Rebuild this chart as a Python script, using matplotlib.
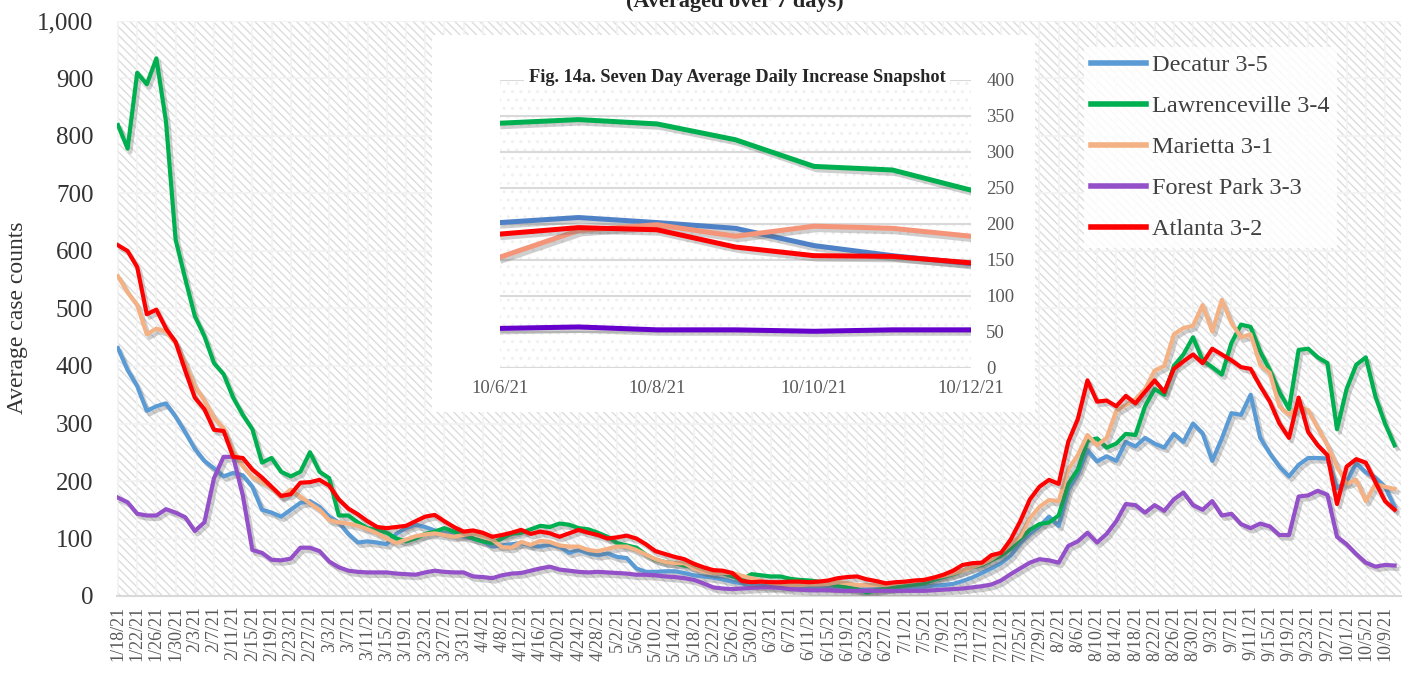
import pandas as pd
import matplotlib
matplotlib.use("Agg")
import matplotlib.pyplot as plt
import matplotlib.patheffects as pe
from matplotlib.patches import Rectangle
from matplotlib.ticker import FuncFormatter

plt.rcParams['font.family'] = ['Liberation Serif', 'DejaVu Serif']
plt.rcParams['hatch.linewidth'] = 1.0

# Main chart data (every second day)
dates = pd.date_range("2021-01-18", periods=134, freq="2D")

decatur = [
    431, 393, 365, 322, 330, 335, 312, 285, 256, 235,
    222, 208, 214, 210, 190, 150, 145, 138, 150, 162,
    165, 155, 138, 128, 108, 93, 95, 93, 90, 108,
    118, 124, 120, 114, 110, 106, 104, 100, 95, 86,
    88, 90, 92, 88, 86, 89, 86, 75, 80, 74,
    71, 74, 68, 66, 48, 42, 42, 43, 43, 40,
    36, 34, 32, 29, 25, 22, 19, 18, 17, 16,
    16, 16, 16, 16, 15, 14, 13, 11, 11, 12,
    13, 14, 15, 16, 16, 18, 19, 21, 26, 32,
    40, 48, 57, 70, 92, 108, 121, 138, 122, 185,
    212, 254, 234, 243, 235, 268, 260, 275, 265, 258,
    282, 268, 300, 283, 235, 274, 318, 315, 350, 275,
    248, 225, 208, 228, 240, 240, 239, 188, 198, 231,
    215, 206, 190, 155]

lawrenceville = [
    819, 778, 910, 890, 935, 825, 620, 552, 487, 452,
    405, 386, 345, 315, 290, 232, 240, 216, 208, 216,
    250, 216, 205, 140, 140, 128, 118, 115, 110, 100,
    95, 100, 108, 112, 118, 112, 108, 100, 95, 92,
    100, 108, 110, 116, 122, 120, 126, 124, 118, 116,
    110, 103, 92, 88, 84, 72, 63, 59, 57, 53,
    50, 44, 41, 40, 34, 28, 38, 36, 34, 34,
    30, 28, 27, 25, 22, 18, 15, 12, 6, 10,
    13, 15, 18, 20, 22, 28, 33, 38, 44, 50,
    54, 62, 70, 82, 100, 115, 125, 128, 140, 195,
    220, 270, 274, 258, 265, 282, 280, 330, 360, 350,
    400, 420, 450, 410, 398, 385, 440, 472, 468, 425,
    393, 355, 325, 428, 430, 415, 405, 290, 360, 402,
    415, 347, 300, 262]

marietta = [
    556, 528, 506, 455, 465, 460, 440, 405, 365, 340,
    310, 292, 251, 226, 207, 198, 188, 172, 185, 173,
    161, 150, 132, 128, 126, 122, 116, 109, 100, 92,
    98, 104, 107, 109, 106, 103, 106, 109, 103, 98,
    85, 84, 94, 89, 96, 94, 88, 86, 86, 80,
    78, 82, 86, 86, 80, 72, 64, 59, 57, 57,
    48, 43, 40, 40, 40, 35, 31, 26, 23, 20,
    19, 19, 20, 20, 21, 24, 22, 19, 19, 19,
    19, 22, 24, 26, 28, 32, 35, 39, 44, 50,
    56, 64, 76, 90, 104, 135, 155, 167, 165, 220,
    245, 280, 262, 275, 322, 332, 342, 360, 392, 400,
    455, 466, 470, 506, 460, 515, 475, 450, 455, 402,
    388, 330, 315, 330, 323, 292, 262, 225, 195, 202,
    165, 195, 190, 186]

forest_park = [
    171, 163, 143, 140, 140, 151, 145, 137, 113, 128,
    205, 242, 242, 175, 80, 75, 63, 62, 65, 84,
    84, 78, 60, 50, 44, 42, 41, 41, 41, 39,
    38, 37, 41, 44, 42, 41, 41, 34, 33, 31,
    36, 39, 40, 44, 48, 51, 46, 44, 42, 41,
    42, 41, 40, 39, 37, 37, 36, 34, 33, 31,
    28, 22, 15, 13, 12, 13, 14, 15, 15, 14,
    12, 11, 10, 10, 10, 9, 9, 9, 9, 9,
    9, 9, 9, 9, 9, 10, 11, 12, 13, 15,
    17, 20, 27, 38, 48, 58, 64, 62, 58, 87,
    95, 110, 93, 108, 130, 160, 158, 145, 158, 148,
    168, 180, 158, 150, 165, 140, 143, 125, 118, 126,
    121, 106, 106, 173, 175, 183, 176, 103, 90, 73,
    58, 51, 54, 53]

atlanta = [
    610, 600, 572, 490, 498, 465, 442, 392, 345, 325,
    289, 287, 242, 240, 220, 206, 190, 174, 177, 197,
    198, 202, 192, 168, 152, 142, 130, 120, 118, 120,
    122, 130, 138, 141, 130, 120, 112, 114, 110, 103,
    106, 110, 115, 108, 112, 109, 103, 109, 115, 110,
    106, 100, 102, 105, 100, 90, 78, 73, 68, 64,
    56, 50, 45, 44, 40, 26, 24, 25, 24, 24,
    25, 25, 24, 25, 27, 31, 33, 34, 29, 26,
    22, 24, 25, 27, 28, 32, 37, 44, 54, 57,
    58, 71, 75, 98, 130, 168, 190, 202, 195, 268,
    308, 375, 338, 340, 330, 348, 335, 355, 375, 355,
    395, 408, 420, 405, 430, 420, 410, 398, 395, 365,
    338, 300, 275, 345, 285, 262, 245, 160, 225, 238,
    232, 198, 165, 150]

# Inset snapshot data
snap_dates = pd.date_range("2021-10-06", "2021-10-12", freq="D")
snap_decatur = [202, 209, 202, 194, 170, 156, 145]
snap_lawrenceville = [340, 345, 339, 317, 280, 275, 247]
snap_marietta = [154, 191, 199, 183, 197, 194, 183]
snap_forest_park = [55, 57, 53, 53, 51, 53, 53]
snap_atlanta = [186, 195, 192, 168, 156, 155, 146]

names = ["Decatur 3-5", "Lawrenceville 3-4", "Marietta 3-1", "Forest Park 3-3", "Atlanta 3-2"]
colors = ["#5b9bd5", "#00b050", "#f4b183", "#9450c8", "#ff0000"]
snap_colors = ["#4f81c6", "#00b050", "#f4957a", "#6600cc", "#ff0000"]

series = [decatur, lawrenceville, marietta, forest_park, atlanta]
snap_series = [snap_decatur, snap_lawrenceville, snap_marietta, snap_forest_park, snap_atlanta]

shadow = [pe.SimpleLineShadow(offset=(2, -2.5), shadow_color="#606060", alpha=0.3), pe.Normal()]

fig = plt.figure(figsize=(14.11, 6.73), dpi=100)
W, H = 1411, 673

# Main chart
ax = fig.add_axes([117 / W, 77 / H, 1284 / W, 575 / H])
ax.patch.set_visible(False)
ax.add_patch(Rectangle((0, 0), 1, 1, transform=ax.transAxes, facecolor="white",
                       edgecolor="#dcdcdc", hatch="\\\\\\\\", lw=0, zorder=0))

for vals, name, col in zip(series, names, colors):
    ax.plot(dates, vals, color=col, lw=3, label=name, zorder=3,
            solid_joinstyle="round", path_effects=shadow)

tick_dates = pd.date_range("2021-01-18", "2021-10-09", freq="4D")
ax.set_xticks(tick_dates)
ax.set_xticklabels([f"{d.month}/{d.day}/{d.strftime('%y')}" for d in tick_dates], rotation=90)
ax.set_xlim(dates[0] - pd.Timedelta(hours=5), pd.Timestamp("2021-10-12") + pd.Timedelta(hours=8))
ax.set_ylim(0, 1000)
ax.set_yticks(range(0, 1001, 100))
ax.yaxis.set_major_formatter(FuncFormatter(lambda v, p: f"{int(v):,}"))

ax.grid(True, color="#f2f2f2", lw=1.2, zorder=1)
ax.set_axisbelow(True)
ax.tick_params(axis="x", length=0, pad=7, labelsize=13, labelcolor="#595959")
ax.tick_params(axis="y", length=0, pad=17, labelsize=18, labelcolor="#333333")
for s in ["top", "right", "left"]:
    ax.spines[s].set_visible(False)
ax.spines["bottom"].set_color("#d9d9d9")
ax.spines["bottom"].set_linewidth(1.5)

fig.text(18 / W, 1 - 318 / H, "Average case counts", rotation=90, ha="center", va="center",
         fontsize=17, color="#333333")
fig.text(0.521, 1 - 7 / H, "(Averaged over 7 days)", ha="center", va="baseline",
         fontsize=16, fontweight="bold", color="#262626")

leg = ax.legend(loc="upper left", bbox_to_anchor=(0.7438, 0.9757), fontsize=17.5, labelcolor="#404040",
                frameon=True, framealpha=0.85, facecolor="white", edgecolor="none", fancybox=False,
                handlelength=2.25, handletextpad=0.25, labelspacing=0.78, borderpad=0.3)
for h in leg.get_lines():
    h.set_path_effects([])
    h.set_linewidth(4)

# Inset snapshot
fig.add_artist(Rectangle((432 / W, 1 - 412 / H), (1035 - 432) / W, (412 - 35) / H,
                         transform=fig.transFigure, facecolor="white", edgecolor="none", zorder=1))

ins = fig.add_axes([500 / W, 1 - 368 / H, 471 / W, 288 / H])
ins.set_zorder(2)
ins.patch.set_facecolor("white")
ins.patch.set_hatch("..")
ins.patch.set_edgecolor("#f0f0f0")
ins.patch.set_linewidth(0)

for vals, col in zip(snap_series, snap_colors):
    ins.plot(snap_dates, vals, color=col, lw=3.6, zorder=3, path_effects=shadow)

ins.set_xlim(snap_dates[0], snap_dates[-1])
ins.set_ylim(0, 400)
ins.set_yticks(range(0, 401, 50))
ins.set_xticks(snap_dates[::2])
ins.set_xticklabels([f"{d.month}/{d.day}/{d.strftime('%y')}" for d in snap_dates[::2]])
ins.yaxis.tick_right()
ins.grid(True, axis="y", color="#d9d9d9", lw=1.5)
ins.set_axisbelow(True)
ins.tick_params(axis="x", length=0, pad=9, labelsize=13.5, labelcolor="#595959")
ins.tick_params(axis="y", length=0, pad=11, labelsize=13.5, labelcolor="#595959")
for s in ins.spines.values():
    s.set_visible(False)
ins.text(0.503, 1.01, "Fig. 14a. Seven Day Average Daily Increase Snapshot", transform=ins.transAxes,
         ha="center", va="center", fontsize=13.2, fontweight="bold", color="#262626",
         bbox=dict(facecolor="white", edgecolor="none", pad=3), zorder=5)

fig.savefig("out.png", dpi=100)
